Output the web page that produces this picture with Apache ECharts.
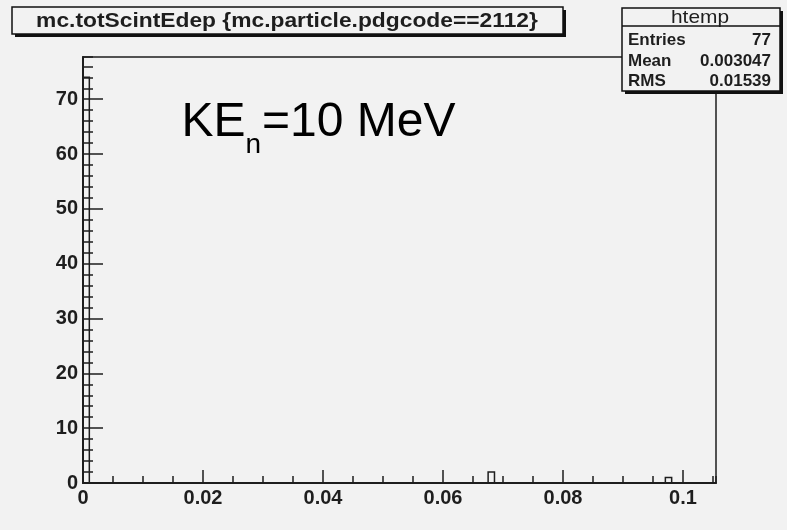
<!DOCTYPE html>
<html><head><meta charset="utf-8">
<script src="https://cdn.jsdelivr.net/npm/echarts@6/dist/echarts.min.js"></script>
<style>html,body{margin:0;padding:0;background:#f2f2f2}#c{width:787px;height:530px}</style>
</head><body><div id="c"></div>
<script>
// ---- data ----
const binLow = [0, 0.06752, 0.09706];
const binHigh = [0.001055, 0.06858, 0.09811];
const counts = [74, 2, 1];
const xTickLabels = ['0', '0.02', '0.04', '0.06', '0.08', '0.1'];
const yTickLabels = ['0', '10', '20', '30', '40', '50', '60', '70'];
const statsLabels = ['Entries', 'Mean', 'RMS'];
const statsValues = ['77', '0.003047', '0.01539'];
const statsName = 'htemp';
const titleText = 'mc.totScintEdep {mc.particle.pdgcode==2112}';
const xMax = 0.1055, yMax = 77.7;

const FONT = '"Liberation Sans", Arial, Helvetica, sans-serif';
const INK = '#1e1e1e';
const BG = '#f2f2f2';

function xLab(v) {
  const k = Math.round(v / 0.02);
  return Math.abs(v - k * 0.02) < 1e-9 && xTickLabels[k] !== undefined ? xTickLabels[k] : '';
}
function yLab(v) {
  const k = Math.round(v / 10);
  return Math.abs(v - k * 10) < 1e-9 && yTickLabels[k] !== undefined ? yTickLabels[k] : '';
}

const chart = echarts.init(document.getElementById('c'), null, {renderer: 'canvas'});
const axisLab = {fontFamily: FONT, fontWeight: 'bold', fontSize: 20, color: INK};

const statsGraphics = [];
statsGraphics.push({type: 'rect', shape: {x: 625, y: 11, width: 158, height: 83}, style: {fill: '#111'}});
statsGraphics.push({type: 'rect', shape: {x: 622, y: 8, width: 158, height: 83}, style: {fill: BG, stroke: '#111', lineWidth: 1.5}});
statsGraphics.push({type: 'line', shape: {x1: 622, y1: 26, x2: 780, y2: 26}, style: {stroke: '#111', lineWidth: 1.5}});
statsGraphics.push({type: 'text', x: 700, y: 17.5, scaleX: 1.1, style: {text: statsName, font: '19px ' + FONT, fill: INK, align: 'center', verticalAlign: 'middle'}});
const rowY = [40, 61, 81];
statsLabels.forEach((l, i) => {
  statsGraphics.push({type: 'text', x: 628, y: rowY[i], style: {text: l, font: 'bold 17px ' + FONT, fill: INK, align: 'left', verticalAlign: 'middle'}});
  statsGraphics.push({type: 'text', x: 771, y: rowY[i], style: {text: statsValues[i], font: 'bold 17px ' + FONT, fill: INK, align: 'right', verticalAlign: 'middle'}});
});

chart.setOption({
  animation: false,
  backgroundColor: BG,
  grid: {left: 83, right: 71, top: 57, bottom: 47, show: true, borderColor: INK, borderWidth: 1.5, backgroundColor: 'transparent'},
  xAxis: [
    {type: 'value', min: 0, max: xMax, interval: 0.02, position: 'bottom',
     axisLine: {show: true, onZero: false, lineStyle: {color: INK, width: 2}},
     axisTick: {show: true, inside: true, length: 13, lineStyle: {color: INK, width: 1.5}},
     axisLabel: Object.assign({margin: 5, formatter: xLab, showMaxLabel: false}, axisLab),
     splitLine: {show: false}},
    {type: 'value', min: 0, max: xMax, interval: 0.005, position: 'bottom',
     axisLine: {show: false, onZero: false},
     axisTick: {show: true, inside: true, length: 7, lineStyle: {color: INK, width: 1.5}},
     axisLabel: {show: false}, splitLine: {show: false}}
  ],
  yAxis: [
    {type: 'value', min: 0, max: yMax, interval: 10, position: 'left',
     axisLine: {show: true, onZero: false, lineStyle: {color: INK, width: 2}},
     axisTick: {show: true, inside: true, length: 20, lineStyle: {color: INK, width: 1.5}},
     axisLabel: Object.assign({margin: 5, formatter: yLab, showMaxLabel: false}, axisLab),
     splitLine: {show: false}},
    {type: 'value', min: 0, max: yMax, interval: 2, position: 'left',
     axisLine: {show: false, onZero: false},
     axisTick: {show: true, inside: true, length: 10, lineStyle: {color: INK, width: 1.5}},
     axisLabel: {show: false}, splitLine: {show: false}}
  ],
  series: [{
    type: 'custom', xAxisIndex: 0, yAxisIndex: 0, silent: true,
    data: counts.map((c, i) => [binLow[i], binHigh[i], c]),
    encode: {x: [0, 1], y: 2},
    renderItem: function (params, api) {
      const p0 = api.coord([api.value(0), 0]);
      const p1 = api.coord([api.value(1), api.value(2)]);
      return {type: 'polyline',
        shape: {points: [[p0[0], p0[1]], [p0[0], p1[1]], [p1[0], p1[1]], [p1[0], p0[1]]]},
        style: {stroke: INK, lineWidth: 1.5, fill: null}};
    }
  }],
  graphic: [
    {type: 'group', z: 100, children: [
      {type: 'rect', shape: {x: 15, y: 10, width: 551, height: 27}, style: {fill: '#111'}},
      {type: 'rect', shape: {x: 12, y: 7, width: 551, height: 27}, style: {fill: BG, stroke: '#111', lineWidth: 1.5}},
      {type: 'text', x: 287, y: 21, scaleX: 1.14, style: {text: titleText, font: 'bold 20px ' + FONT, fill: INK, align: 'center', verticalAlign: 'middle'}}
    ]},
    {type: 'group', z: 100, children: statsGraphics},
    {type: 'group', z: 100, children: [
      {type: 'text', x: 181.5, y: 123, style: {text: 'KE', font: '48px ' + FONT, fill: '#000', align: 'left', verticalAlign: 'middle'}},
      {type: 'text', x: 245.5, y: 145, style: {text: 'n', font: '28px ' + FONT, fill: '#000', align: 'left', verticalAlign: 'middle'}},
      {type: 'text', x: 262, y: 123, style: {text: '=10 MeV', font: '48px ' + FONT, fill: '#000', align: 'left', verticalAlign: 'middle'}}
    ]}
  ]
});
</script>
</body></html>
